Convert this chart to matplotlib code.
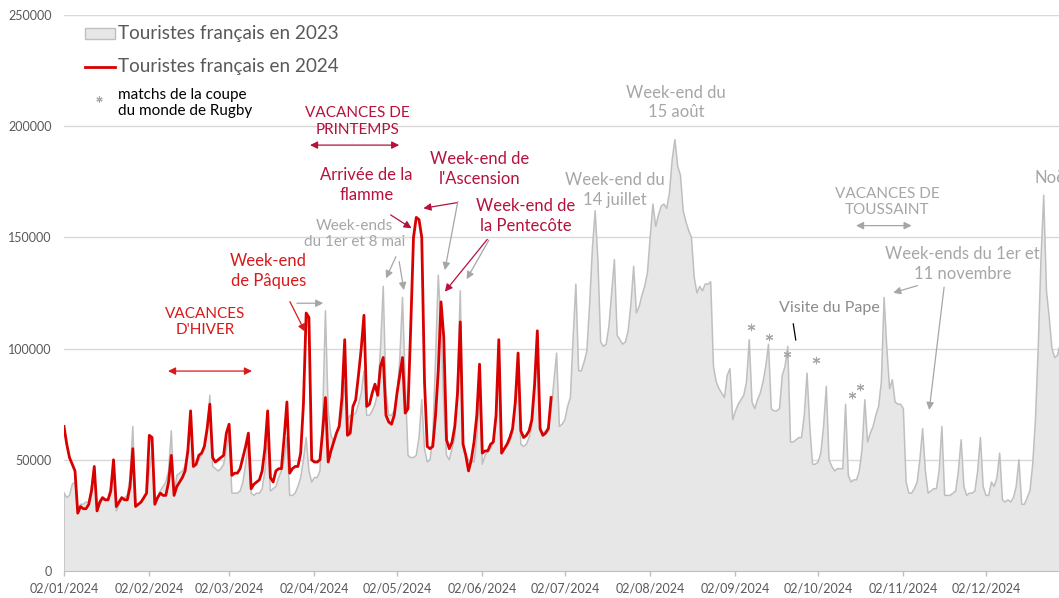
import numpy as np
import pandas as pd
import matplotlib
matplotlib.use("Agg")
import matplotlib.pyplot as plt
import matplotlib.dates as mdates
from matplotlib.patches import Rectangle
from matplotlib.lines import Line2D

plt.rcParams['font.family'] = ['Lato', 'DejaVu Sans']

# ---------------- data (values in thousands of tourists, daily from 02/01) -------------
start_date = "2024-01-02"

tourists_2023_k = [
    35, 33, 34, 39, 40, 27, 30, 30, 31, 31,
    38, 47, 27, 30, 32, 32, 32, 38, 50, 27,
    30, 32, 33, 34, 42, 65, 29, 30, 31, 32,
    35, 45, 55, 30, 33, 36, 38, 40, 45, 63,
    34, 43, 44, 45, 47, 55, 70, 47, 48, 50,
    52, 55, 62, 79, 47, 46, 45, 46, 48, 55,
    62, 35, 35, 35, 36, 40, 48, 58, 35, 34,
    35, 35, 37, 45, 60, 36, 37, 38, 42, 45,
    50, 60, 34, 34, 35, 38, 42, 50, 60, 45,
    40, 42, 42, 45, 70, 117, 72, 61, 58, 62,
    66, 70, 85, 68, 70, 70, 71, 75, 80, 90,
    70, 70, 72, 75, 80, 100, 128, 80, 70, 70,
    72, 78, 95, 123, 85, 52, 51, 51, 52, 60,
    77, 55, 49, 50, 60, 95, 133, 110, 75, 52,
    50, 55, 60, 85, 126, 58, 52, 50, 49, 49,
    60, 80, 48, 52, 54, 55, 58, 70, 95, 55,
    55, 57, 58, 62, 75, 92, 57, 56, 57, 60,
    65, 80, 100, 63, 62, 63, 65, 72, 85, 98,
    65, 66, 68, 74, 78, 105, 129, 90, 90, 94,
    99, 120, 145, 162, 140, 103, 101, 102, 110, 125,
    140, 106, 104, 102, 103, 108, 120, 137, 116, 119,
    124, 128, 134, 150, 165, 155, 160, 164, 165, 163,
    170, 185, 194, 182, 178, 162, 157, 153, 150, 132,
    125, 128, 126, 129, 129, 130, 92, 85, 82, 80,
    78, 88, 91, 68, 72, 75, 77, 79, 85, 104,
    76, 73, 77, 80, 85, 92, 102, 73, 72, 72,
    73, 88, 92, 101, 58, 58, 59, 60, 60, 70,
    89, 65, 48, 48, 49, 53, 65, 83, 50, 47,
    45, 46, 46, 46, 75, 43, 40, 41, 41, 45,
    55, 77, 58, 62, 65, 70, 74, 85, 123, 100,
    82, 86, 76, 75, 75, 73, 40, 35, 35, 37,
    40, 50, 64, 45, 35, 36, 37, 37, 45, 65,
    34, 34, 34, 35, 36, 45, 59, 38, 34, 35,
    35, 36, 45, 60, 38, 34, 34, 40, 38, 42,
    53, 32, 31, 32, 31, 33, 38, 50, 30, 30,
    33, 36, 48, 68, 100, 140, 169, 126, 114, 100,
    96, 97, 102, 105, 108,
]

tourists_2024_k = [
    65, 57, 51, 48, 45, 26, 29, 28, 28, 30,
    36, 47, 27, 31, 33, 32, 32, 36, 50, 29,
    31, 33, 32, 32, 38, 55, 29, 30, 31, 33,
    35, 61, 60, 30, 33, 35, 34, 34, 40, 52,
    34, 38, 40, 42, 45, 54, 72, 47, 48, 52,
    53, 56, 64, 75, 51, 49, 50, 51, 52, 62,
    66, 43, 44, 44, 46, 51, 56, 62, 37, 39,
    40, 41, 45, 55, 72, 42, 40, 45, 46, 46,
    60, 76, 44, 46, 47, 47, 53, 75, 116, 114,
    50, 49, 49, 50, 63, 78, 49, 54, 58, 62,
    65, 78, 104, 61, 62, 74, 77, 88, 100, 115,
    74, 75, 80, 84, 79, 92, 96, 70, 67, 66,
    70, 80, 88, 96, 71, 73, 110, 150, 159, 158,
    150, 85, 56, 55, 56, 70, 90, 121, 105, 59,
    55, 58, 65, 80, 112, 57, 52, 45, 50, 58,
    70, 93, 53, 54, 54, 57, 58, 70, 104, 53,
    55, 57, 60, 64, 76, 98, 63, 60, 61, 63,
    68, 84, 108, 64, 61, 62, 64, 78,
]

# Rugby world cup match markers: day index (from 02/01) and height (thousands)
rugby_days = [249.6, 256.3, 262.8, 273.1, 286.2, 289.2]
rugby_k = [109.6, 105.4, 97.4, 94.9, 79.1, 82.9]

legend_labels = ["Touristes français en 2023", "Touristes français en 2024",
                 "matchs de la coupe\ndu monde de Rugby"]
y_ticks = [0, 50000, 100000, 150000, 200000, 250000]
x_tick_dates = pd.date_range("2024-01-02", "2024-12-02", freq=pd.DateOffset(months=1))

# ---------------- styles -------------
W, H = 1059, 598
RED = '#D90000'
CRIMSON = '#B5123D'
BRIGHT = '#D91A1A'
GREY_TXT = '#A6A6A6'
AXIS_TXT = '#595959'
AREA_FC = '#E7E7E7'
AREA_EC = '#BFBFBF'
ASTER = (6, 2, 0)

fig = plt.figure(figsize=(W / 100, H / 100), dpi=100)
ax = fig.add_axes([64 / W, 1 - 571 / H, (W - 64) / W, (571 - 15) / H])

t0 = pd.Timestamp(start_date)
d23 = pd.date_range(start_date, periods=len(tourists_2023_k), freq='D')
d24 = pd.date_range(start_date, periods=len(tourists_2024_k), freq='D')
v23 = np.array(tourists_2023_k) * 1000
v24 = np.array(tourists_2024_k) * 1000

ax.fill_between(d23, 0, v23, facecolor=AREA_FC, edgecolor='none', zorder=2)
ax.plot(d23, v23, color=AREA_EC, lw=1.1, zorder=3)
ax.plot([d23[0], d23[0]], [0, v23[0]], color=AREA_EC, lw=1.1, zorder=3)
ax.plot(d24, v24, color=RED, lw=2.0, zorder=5, solid_joinstyle='round')

def D(day):
    return t0 + pd.Timedelta(days=day)

ax.scatter([D(dd) for dd in rugby_days], np.array(rugby_k) * 1000, marker=ASTER,
           s=22, color=GREY_TXT, linewidths=0.8, zorder=6)

ax.set_xlim(t0, D((W - 64) / 2.752))
ax.set_ylim(0, 250000)
ax.set_yticks(y_ticks)
ax.set_yticklabels([str(v) for v in y_ticks])
ax.set_xticks(x_tick_dates)
ax.xaxis.set_major_formatter(mdates.DateFormatter('%d/%m/%Y'))
ax.grid(axis='y', color='#D9D9D9', lw=1, zorder=0)
ax.set_axisbelow(True)
for s in ['top', 'right', 'left']:
    ax.spines[s].set_visible(False)
ax.spines['bottom'].set_color('#BFBFBF')
ax.spines['bottom'].set_zorder(7)
ax.tick_params(axis='y', length=0, pad=9, labelsize=9, labelcolor=AXIS_TXT)
ax.tick_params(axis='x', length=3.5, width=1, color='#BFBFBF', pad=5, labelsize=9, labelcolor=AXIS_TXT)
ax.patch.set_alpha(0)

# ---------------- annotations -------------
def txt(day, val_k, s, color, size=12, ha='center'):
    ax.text(D(day), val_k * 1000, s, color=color, fontsize=size, ha=ha, va='center',
            linespacing=1.25, zorder=8)

def arrow(d0, v0, d1, v1, color, style='-|>', lw=0.9):
    ax.annotate('', xy=(D(d1), v1 * 1000), xytext=(D(d0), v0 * 1000),
                arrowprops=dict(arrowstyle=style, color=color, lw=lw, mutation_scale=11,
                                shrinkA=0, shrinkB=0), zorder=8)

txt(51.2, 112.0, "VACANCES\nD'HIVER", BRIGHT, 11)
arrow(37.8, 89.9, 68.3, 89.9, BRIGHT, '<|-|>')
txt(74.3, 134.9, "Week-end\nde Pâques", BRIGHT)
arrow(82.1, 121.1, 87.6, 107.6, BRIGHT)
arrow(84.6, 120.4, 94.2, 120.4, GREY_TXT)

txt(106.6, 202.1, "VACANCES DE\nPRINTEMPS", CRIMSON, 11)
arrow(89.4, 191.5, 121.8, 191.5, CRIMSON, '<|-|>')
txt(110.0, 173.6, "Arrivée de la\nflamme", CRIMSON)
arrow(118.7, 160.1, 126.3, 154.1, CRIMSON)
txt(105.6, 151.5, "Week-ends\ndu 1er et 8 mai", GREY_TXT, 11)
arrow(120.6, 141.3, 117.0, 131.6, GREY_TXT)
arrow(121.8, 139.1, 123.5, 126.3, GREY_TXT)

txt(150.9, 180.8, "Week-end de\nl'Ascension", CRIMSON)
arrow(142.7, 165.6, 130.6, 163.1, CRIMSON)
arrow(143.1, 166.1, 138.4, 135.3, GREY_TXT)
txt(167.9, 159.6, "Week-end de\nla Pentecôte", CRIMSON)
arrow(153.8, 149.1, 138.4, 125.6, CRIMSON)
arrow(154.4, 148.8, 146.3, 131.2, GREY_TXT)

txt(200.2, 171.3, "Week-end du\n14 juillet", GREY_TXT)
txt(222.4, 210.7, "Week-end du\n15 août", GREY_TXT)

txt(299.2, 165.9, "VACANCES DE\nTOUSSAINT", GREY_TXT, 11)
arrow(287.8, 155.3, 308.0, 155.3, GREY_TXT, '<|-|>')
txt(326.5, 138.0, "Week-ends du 1er et\n11 novembre", GREY_TXT)
arrow(310.1, 128.3, 301.3, 125.1, GREY_TXT)
arrow(319.8, 127.6, 314.4, 72.4, GREY_TXT)
ax.text(D(352.7), 176.7 * 1000, "Noël", color=GREY_TXT, fontsize=12, ha='left', va='center',
        zorder=8, clip_on=False)

txt(278.0, 118.1, "Visite du Pape", '#8C8C8C', 11.5)
ax.plot([D(265.0), D(265.9)], [111.1e3, 103.9e3], color='black', lw=0.9, zorder=8)

# ---------------- legend (drawn manually) -------------
def fx(x):
    return x / W

def fy(y):
    return 1 - y / H

fig.patches.append(Rectangle((fx(85), fy(39.3)), fx(115) - fx(85), fy(28.3) - fy(39.3),
                             transform=fig.transFigure, facecolor=AREA_FC, edgecolor=AREA_EC, lw=1))
fig.text(fx(118), fy(33.5), legend_labels[0], color=AXIS_TXT, fontsize=13.6, va='center', ha='left')
fig.lines.append(Line2D([fx(85), fx(115)], [fy(66.7), fy(66.7)], transform=fig.transFigure,
                        color=RED, lw=2.0))
fig.text(fx(118), fy(66.7), legend_labels[1], color=AXIS_TXT, fontsize=13.6, va='center', ha='left')
fig.lines.append(Line2D([fx(99)], [fy(99)], transform=fig.transFigure, marker=ASTER,
                        markersize=4.5, color=GREY_TXT, markeredgewidth=0.8, linestyle='none'))
fig.text(fx(118), fy(103), legend_labels[2], color='black', fontsize=11, va='center', ha='left',
         linespacing=1.25)

fig.savefig("out.png", dpi=100)
